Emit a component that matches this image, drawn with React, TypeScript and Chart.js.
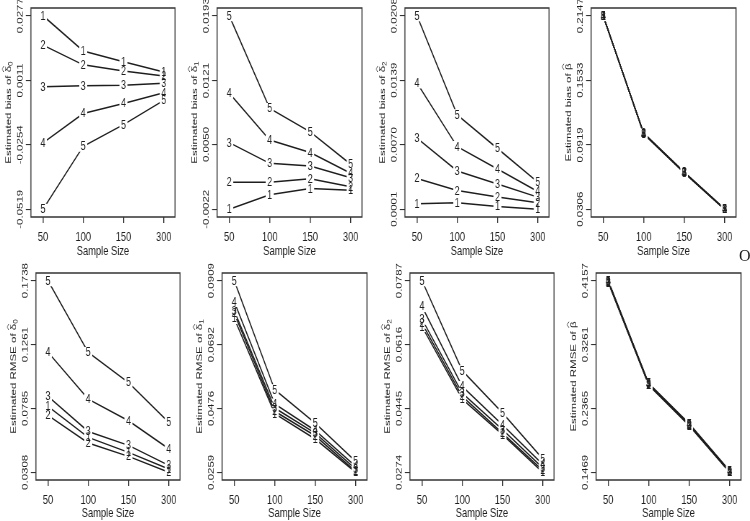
import React, { useEffect, useRef } from "react";
import { Chart, registerables } from "chart.js";

Chart.register(...registerables);

// ---------- data ----------
const sampleSizes = ["50", "100", "150", "300"];
const seriesLabels = ["1", "2", "3", "4", "5"];

// Estimated bias of delta0 (series 1..5 at n = 50,100,150,300)
const biasDelta0 = [
  [0.0277, 0.0132, 0.0088, 0.0046],
  [0.0156, 0.0075, 0.005, 0.0029],
  [-0.0015, -0.0011, -0.0009, -0.0001],
  [-0.0246, -0.0125, -0.0084, -0.004],
  [-0.0519, -0.026, -0.0171, -0.0071],
];
const biasDelta0Ticks = ["-0.0519", "-0.0254", "0.0011", "0.0277"];

const biasDelta1 = [
  [-0.0022, -0.0006, 0.0001, -0.0001],
  [0.0008, 0.0008, 0.0012, 0.0003],
  [0.0052, 0.0029, 0.0026, 0.0013],
  [0.0107, 0.0055, 0.0041, 0.0018],
  [0.0193, 0.009, 0.0064, 0.0028],
];
const biasDelta1Ticks = ["-0.0022", "0.0050", "0.0121", "0.0193"];

const biasDelta2 = [
  [0.0007, 0.0008, 0.0004, 0.0001],
  [0.0034, 0.0021, 0.0014, 0.0008],
  [0.0077, 0.0042, 0.0028, 0.0014],
  [0.0136, 0.0068, 0.0044, 0.002],
  [0.0208, 0.0102, 0.0066, 0.003],
];
const biasDelta2Ticks = ["0.0001", "0.0070", "0.0139", "0.0208"];

const biasBeta = [
  [0.214, 0.103, 0.066, 0.0309],
  [0.2143, 0.1028, 0.0658, 0.0308],
  [0.2145, 0.1026, 0.0656, 0.0307],
  [0.2146, 0.1024, 0.0654, 0.0306],
  [0.2147, 0.1022, 0.0652, 0.0306],
];
const biasBetaTicks = ["0.0306", "0.0919", "0.1533", "0.2147"];

const rmseDelta0 = [
  [0.08, 0.0569, 0.0457, 0.0333],
  [0.0733, 0.0527, 0.0427, 0.0308],
  [0.0874, 0.0613, 0.0509, 0.036],
  [0.1204, 0.0854, 0.0693, 0.0484],
  [0.1738, 0.1202, 0.0978, 0.068],
];
const rmseDelta0Ticks = ["0.0308", "0.0785", "0.1261", "0.1738"];

const rmseDelta1 = [
  [0.0781, 0.0458, 0.0372, 0.0259],
  [0.0798, 0.0466, 0.0383, 0.0262],
  [0.0807, 0.0477, 0.0392, 0.027],
  [0.0838, 0.0491, 0.0401, 0.0279],
  [0.0909, 0.0539, 0.0426, 0.0296],
];
const rmseDelta1Ticks = ["0.0259", "0.0476", "0.0692", "0.0909"];

const rmseDelta2 = [
  [0.0664, 0.047, 0.0375, 0.0274],
  [0.0673, 0.0477, 0.0379, 0.0279],
  [0.0684, 0.0486, 0.0388, 0.0286],
  [0.0718, 0.0504, 0.0401, 0.0295],
  [0.0787, 0.0546, 0.0433, 0.031],
];
const rmseDelta2Ticks = ["0.0274", "0.0445", "0.0616", "0.0787"];

const rmseBeta = [
  [0.413, 0.269, 0.2125, 0.1469],
  [0.4137, 0.2697, 0.2132, 0.1474],
  [0.4144, 0.2704, 0.2139, 0.1479],
  [0.4151, 0.2711, 0.2146, 0.1484],
  [0.4157, 0.2718, 0.2153, 0.1489],
];
const rmseBetaTicks = ["0.1469", "0.2365", "0.3261", "0.4157"];

// ---------- layout / style ----------
const SX = 0.72; // horizontal squeeze of the figure
const FONT = "'Liberation Sans', Arial, Helvetica, sans-serif";
const FS_X = 13; // x tick labels and x title
const FS_Y = 11.5; // rotated y tick labels and y title
const FS_PT = 12.5; // point labels
const XMIN = 0.7;
const XMAX = 4.28;
const STEP = 40.4;
const YW = 30;
const RP = 4;
const GAPX = 4;
const GAPY = 5.5;
const INK = "#1e1e1e";

const ROWS = [
  { top: 0, h: 260, padTop: 8, xh: 43, titlePad: 0.5 },
  { top: 260, h: 261, padTop: 13, xh: 41, titlePad: 0 },
];

type Spec = {
  row: number;
  t50: number;
  data: number[][];
  ticks: string[];
  prefix: string;
  sym: string;
  sub: string;
};

const panels: Spec[] = [
  { row: 0, t50: 42.7, data: biasDelta0, ticks: biasDelta0Ticks, prefix: "Estimated bias of ", sym: "δ", sub: "0" },
  { row: 0, t50: 229.3, data: biasDelta1, ticks: biasDelta1Ticks, prefix: "Estimated bias of ", sym: "δ", sub: "1" },
  { row: 0, t50: 416.7, data: biasDelta2, ticks: biasDelta2Ticks, prefix: "Estimated bias of ", sym: "δ", sub: "2" },
  { row: 0, t50: 603.3, data: biasBeta, ticks: biasBetaTicks, prefix: "Estimated bias of ", sym: "β", sub: "" },
  { row: 1, t50: 47.7, data: rmseDelta0, ticks: rmseDelta0Ticks, prefix: "Estimated RMSE of ", sym: "δ", sub: "0" },
  { row: 1, t50: 234.3, data: rmseDelta1, ticks: rmseDelta1Ticks, prefix: "Estimated RMSE of ", sym: "δ", sub: "1" },
  { row: 1, t50: 421.7, data: rmseDelta2, ticks: rmseDelta2Ticks, prefix: "Estimated RMSE of ", sym: "δ", sub: "2" },
  { row: 1, t50: 608.3, data: rmseBeta, ticks: rmseBetaTicks, prefix: "Estimated RMSE of ", sym: "β", sub: "" },
];

function drawYTitle(ctx: CanvasRenderingContext2D, x: number, y: number, spec: Spec) {
  const f = FS_Y;
  ctx.save();
  ctx.translate(x, y);
  ctx.rotate(-Math.PI / 2);
  ctx.textAlign = "left";
  ctx.textBaseline = "alphabetic";
  ctx.fillStyle = INK;
  ctx.font = `${f}px ${FONT}`;
  const w1 = ctx.measureText(spec.prefix).width;
  const wd = ctx.measureText(spec.sym).width;
  ctx.font = `${f * 0.72}px ${FONT}`;
  const ws = spec.sub ? ctx.measureText(spec.sub).width : 0;
  const total = w1 + wd + ws;
  const x0 = -total / 2;
  const base = f * 0.36;
  ctx.font = `${f}px ${FONT}`;
  ctx.fillText(spec.prefix, x0, base);
  ctx.fillText(spec.sym, x0 + w1, base);
  if (spec.sub) {
    ctx.font = `${f * 0.72}px ${FONT}`;
    ctx.fillText(spec.sub, x0 + w1 + wd, base + f * 0.22);
  }
  const hx = x0 + w1;
  const ht = base - f * 0.86;
  ctx.beginPath();
  ctx.moveTo(hx + 0.3, ht);
  ctx.lineTo(hx + wd / 2, ht - f * 0.2);
  ctx.lineTo(hx + wd - 0.3, ht);
  ctx.strokeStyle = INK;
  ctx.lineWidth = 0.8;
  ctx.stroke();
  ctx.restore();
}

function makePlugin(spec: Spec) {
  return {
    id: "rstyle",
    beforeDatasetDraw(chart: any, args: any) {
      const ctx = chart.ctx as CanvasRenderingContext2D;
      ctx.save();
      ctx.beginPath();
      ctx.rect(0, 0, chart.width, chart.height);
      for (const p of args.meta.data) {
        ctx.rect(p.x - GAPX / SX, p.y - GAPY, (2 * GAPX) / SX, 2 * GAPY);
      }
      ctx.clip("evenodd");
    },
    afterDatasetDraw(chart: any) {
      chart.ctx.restore();
    },
    afterDatasetsDraw(chart: any) {
      const ctx = chart.ctx as CanvasRenderingContext2D;
      ctx.save();
      ctx.font = `${FS_PT}px ${FONT}`;
      ctx.fillStyle = INK;
      ctx.textAlign = "center";
      ctx.textBaseline = "middle";
      chart.data.datasets.forEach((ds: any, i: number) => {
        const meta = chart.getDatasetMeta(i);
        meta.data.forEach((p: any) => ctx.fillText(ds.label, p.x, p.y + 0.5));
      });
      ctx.restore();
    },
    afterDraw(chart: any) {
      const ctx = chart.ctx as CanvasRenderingContext2D;
      const a = chart.chartArea;
      const yScale = chart.scales.y;
      ctx.save();
      ctx.strokeStyle = "#333";
      ctx.lineWidth = 1.5;
      ctx.strokeRect(a.left, a.top, a.right - a.left, a.bottom - a.top);
      // rotated y tick labels
      ctx.font = `${FS_Y}px ${FONT}`;
      ctx.fillStyle = INK;
      ctx.textAlign = "center";
      ctx.textBaseline = "middle";
      spec.ticks.forEach((t) => {
        const py = yScale.getPixelForValue(parseFloat(t));
        ctx.save();
        ctx.translate(a.left - 10.5 / SX, py);
        ctx.rotate(-Math.PI / 2);
        ctx.fillText(t, 0, 0);
        ctx.restore();
      });
      ctx.restore();
      drawYTitle(ctx, a.left - 23 / SX, (a.top + a.bottom) / 2, spec);
    },
  };
}

function Panel({ spec }: { spec: Spec }) {
  const ref = useRef<HTMLCanvasElement>(null);
  const row = ROWS[spec.row];
  const boxLeft = spec.t50 - (1 - XMIN) * STEP;
  const boxW = (XMAX - XMIN) * STEP;
  const leftDisp = boxLeft - YW;
  const wInt = Math.round((YW + boxW + RP) / SX);

  useEffect(() => {
    const yVals = spec.ticks.map((t) => parseFloat(t));
    const all = spec.data.flat();
    const dmin = Math.min(...all);
    const dmax = Math.max(...all);
    const pad = (dmax - dmin) * 0.04;
    const chart = new Chart(ref.current as HTMLCanvasElement, {
      type: "line",
      data: {
        datasets: spec.data.map((vals, si) => ({
          label: seriesLabels[si],
          data: vals.map((v, i) => ({ x: i + 1, y: v })),
          borderColor: INK,
          borderWidth: 1.5,
          pointRadius: 0,
          fill: false,
          tension: 0,
        })),
      },
      options: {
        responsive: false,
        animation: false,
        devicePixelRatio: 1,
        layout: { padding: { top: row.padTop, right: RP / SX, bottom: 0, left: 0 } },
        plugins: { legend: { display: false }, tooltip: { enabled: false } },
        scales: {
          x: {
            type: "linear",
            min: XMIN,
            max: XMAX,
            afterBuildTicks: (s: any) => {
              s.ticks = sampleSizes.map((_, i) => ({ value: i + 1 }));
            },
            ticks: {
              callback: (v: any) => sampleSizes[Math.round(Number(v)) - 1] ?? "",
              font: { family: FONT, size: FS_X },
              color: INK,
              padding: 7,
              maxRotation: 0,
              autoSkip: false,
            },
            grid: { drawOnChartArea: false, drawTicks: true, tickLength: 6, color: "#333", lineWidth: 1.4 },
            border: { display: false },
            title: {
              display: true,
              text: "Sample Size",
              font: { family: FONT, size: FS_X },
              color: INK,
              padding: { top: 0, bottom: row.titlePad },
            },
            afterFit: (s: any) => {
              s.height = row.xh;
            },
          },
          y: {
            type: "linear",
            min: dmin - pad,
            max: dmax + pad,
            afterBuildTicks: (s: any) => {
              s.ticks = yVals.map((v) => ({ value: v }));
            },
            ticks: { display: false },
            grid: { drawOnChartArea: false, drawTicks: true, tickLength: 5 / SX, color: "#333", lineWidth: 1.1 },
            border: { display: false },
            afterFit: (s: any) => {
              s.width = YW / SX;
            },
          },
        },
      } as any,
      plugins: [makePlugin(spec)],
    });
    return () => chart.destroy();
  }, []);

  return (
    <canvas
      ref={ref}
      width={wInt}
      height={row.h}
      style={{
        position: "absolute",
        left: leftDisp,
        top: row.top,
        width: wInt * SX,
        height: row.h,
      }}
    />
  );
}

export default function App() {
  return (
    <div
      style={{
        position: "absolute",
        left: 0,
        top: 0,
        width: 750,
        height: 521,
        overflow: "hidden",
        background: "#fff",
      }}
    >
      {panels.map((p, i) => (
        <Panel key={i} spec={p} />
      ))}
      <span
        style={{
          position: "absolute",
          left: 739,
          top: 248,
          font: "16px 'Liberation Serif', 'Times New Roman', serif",
          color: INK,
          lineHeight: 1,
        }}
      >
        O
      </span>
    </div>
  );
}
